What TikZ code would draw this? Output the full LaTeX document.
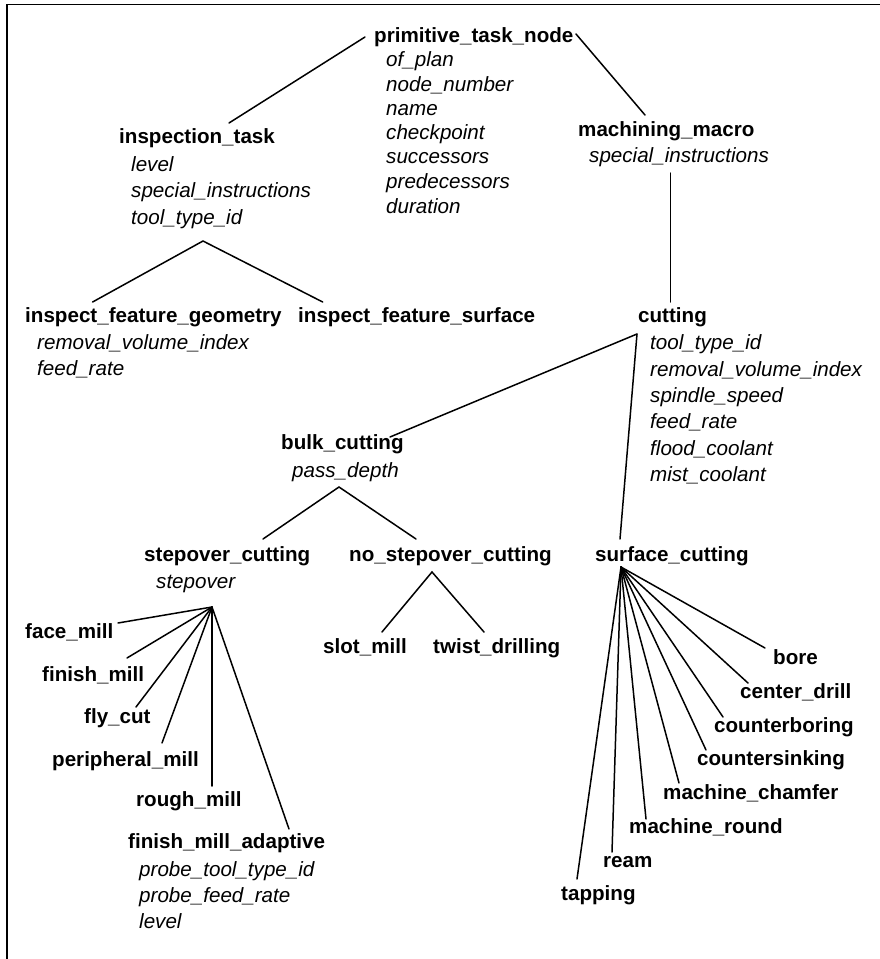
\documentclass[tikz,border=0pt]{standalone}
\usepackage{fontspec}
\setmainfont{Liberation Sans}
\begin{document}
\begin{tikzpicture}[x=1pt,y=-1pt,
  clsname/.style={anchor=base west, inner sep=0pt, font=\fontsize{20.6}{24}\selectfont\bfseries},
  attrib/.style={anchor=base west, inner sep=0pt, font=\fontsize{20.6}{24}\selectfont\itshape},
  link/.style={line width=1.5pt, line cap=round}]
\useasboundingbox (0,0) rectangle (880,959);
\draw[line width=1.8pt] (880,4.5) -- (7,4.5) -- (7,959);

% primitive_task_node
\node[clsname] (ptn) at (374,42) {primitive\_task\_node};
\node[attrib] (ptn1) at (386,66) {of\_plan};
\node[attrib] (ptn2) at (386,91) {node\_number};
\node[attrib] (ptn3) at (386,115) {name};
\node[attrib] (ptn4) at (386,139) {checkpoint};
\node[attrib] (ptn5) at (386,163) {successors};
\node[attrib] (ptn6) at (386,188) {predecessors};
\node[attrib] (ptn7) at (386,213) {duration};

% inspection_task
\node[clsname] (it) at (119,143) {inspection\_task};
\node[attrib] (it1) at (131,171) {level};
\node[attrib] (it2) at (131,197) {special\_instructions};
\node[attrib] (it3) at (131,224) {tool\_type\_id};

% machining_macro
\node[clsname] (mm) at (578,136) {machining\_macro};
\node[attrib] (mm1) at (589,162) {special\_instructions};

% inspect features
\node[clsname] (ifg) at (25,322) {inspect\_feature\_geometry};
\node[attrib] (ifg1) at (37,349) {removal\_volume\_index};
\node[attrib] (ifg2) at (37,375) {feed\_rate};
\node[clsname] (ifs) at (298,322) {inspect\_feature\_surface};

% cutting
\node[clsname] (cut) at (638,322) {cutting};
\node[attrib] (cut1) at (650,349) {tool\_type\_id};
\node[attrib] (cut2) at (650,376) {removal\_volume\_index};
\node[attrib] (cut3) at (650,402) {spindle\_speed};
\node[attrib] (cut4) at (650,428) {feed\_rate};
\node[attrib] (cut5) at (650,455) {flood\_coolant};
\node[attrib] (cut6) at (650,481) {mist\_coolant};

% bulk_cutting
\node[clsname] (bc) at (281,449) {bulk\_cutting};
\node[attrib] (bc1) at (292,477) {pass\_depth};

% level 5
\node[clsname] (soc) at (144,561) {stepover\_cutting};
\node[attrib] (soc1) at (156,588) {stepover};
\node[clsname] (nsc) at (349,561) {no\_stepover\_cutting};
\node[clsname] (sfc) at (595,561) {surface\_cutting};

% stepover children
\node[clsname] (fm) at (25,638) {face\_mill};
\node[clsname] (fim) at (42,681) {finish\_mill};
\node[clsname] (fc) at (84,723) {fly\_cut};
\node[clsname] (pm) at (52,766) {peripheral\_mill};
\node[clsname] (rm) at (136,806) {rough\_mill};
\node[clsname] (fma) at (128,848) {finish\_mill\_adaptive};
\node[attrib] (fma1) at (139,876) {probe\_tool\_type\_id};
\node[attrib] (fma2) at (139,902) {probe\_feed\_rate};
\node[attrib] (fma3) at (139,928) {level};

% no_stepover children
\node[clsname] (sm) at (323,653) {slot\_mill};
\node[clsname] (td) at (433,653) {twist\_drilling};

% surface children
\node[clsname] (bo) at (773,664) {bore};
\node[clsname] (cd) at (740,698) {center\_drill};
\node[clsname] (cb) at (714,732) {counterboring};
\node[clsname] (cs) at (697,765) {countersinking};
\node[clsname] (mch) at (663,799) {machine\_chamfer};
\node[clsname] (mr) at (629,833) {machine\_round};
\node[clsname] (re) at (603,867) {ream};
\node[clsname] (ta) at (561,900) {tapping};

% junction points
\coordinate (ptnL) at (365,37);
\coordinate (ptnR) at (576,34);
\coordinate (itT) at (229,123);
\coordinate (mmT) at (645,115);
\coordinate (mmB) at (670.6,173);
\coordinate (cutT) at (670.6,302);
\coordinate (itB) at (203,241);
\coordinate (ifgT) at (92.6,302);
\coordinate (ifsT) at (322.7,302);
\coordinate (cutB) at (637,334);
\coordinate (bcT) at (390,437);
\coordinate (sfcT) at (620,539);
\coordinate (bcB) at (339,487);
\coordinate (socT) at (263,539);
\coordinate (nscT) at (416,539);
\coordinate (nscB) at (432,572);
\coordinate (smT) at (382,632);
\coordinate (tdT) at (484,632);
\coordinate (socB) at (212,607);
\coordinate (fmT) at (118,623);
\coordinate (fimT) at (127,658);
\coordinate (fcT) at (136,707);
\coordinate (pmT) at (162,743);
\coordinate (rmT) at (212,786);
\coordinate (fmaT) at (289,829);
\coordinate (sfcB) at (621,567);
\coordinate (boT) at (765,648);
\coordinate (cdT) at (748,683);
\coordinate (cbT) at (723,717);
\coordinate (csT) at (706,750);
\coordinate (mchT) at (679,783);
\coordinate (mrT) at (646,819);
\coordinate (reT) at (612,852);
\coordinate (taT) at (577,879);

\draw[link] (ptnL) -- (itT);
\draw[link] (ptnR) -- (mmT);
\draw[link] (mmB) -- (cutT);
\draw[link] (ifgT) -- (itB) -- (ifsT);
\draw[link] (cutB) -- (bcT);
\draw[link] (cutB) -- (sfcT);
\draw[link] (socT) -- (bcB) -- (nscT);
\draw[link] (smT) -- (nscB) -- (tdT);
\foreach \c in {fmT,fimT,fcT,pmT,rmT,fmaT} \draw[link] (socB) -- (\c);
\foreach \c in {boT,cdT,cbT,csT,mchT,mrT,reT,taT} \draw[link] (sfcB) -- (\c);
\end{tikzpicture}
\end{document}
